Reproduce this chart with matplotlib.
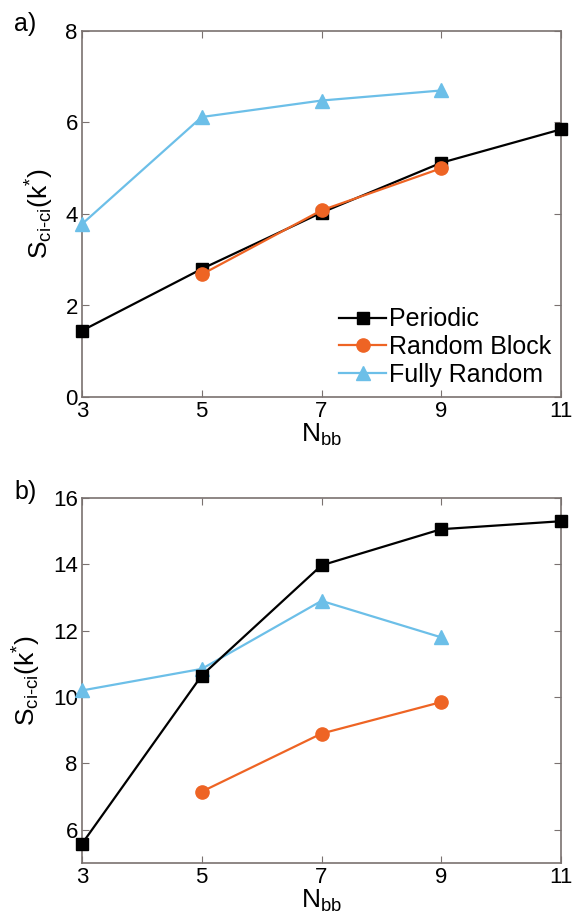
import matplotlib
matplotlib.use("Agg")
import matplotlib.pyplot as plt

plt.rcParams["font.family"] = ["Liberation Sans", "DejaVu Sans"]
plt.rcParams["mathtext.fontset"] = "custom"
plt.rcParams["mathtext.rm"] = "Liberation Sans"
plt.rcParams["mathtext.it"] = "Liberation Sans"

n_bb = [3, 5, 7, 9, 11]

# panel a
a_periodic = [1.45, 2.8, 4.03, 5.12, 5.85]
a_block_x = [5, 7, 9]
a_block = [2.68, 4.08, 5.0]
a_random_x = [3, 5, 7, 9]
a_random = [3.78, 6.12, 6.48, 6.7]

# panel b
b_periodic = [5.58, 10.65, 13.97, 15.06, 15.3]
b_block_x = [5, 7, 9]
b_block = [7.15, 8.9, 9.85]
b_random_x = [3, 5, 7, 9]
b_random = [10.2, 10.85, 12.9, 11.8]

BLACK = "#000000"
ORANGE = "#ee6424"
BLUE = "#6cbfe8"
SPINE = "#7a7270"

fig = plt.figure(figsize=(5.72, 9.21), dpi=100)
ax1 = fig.add_axes([82 / 572, 1 - 397 / 921, 479 / 572, 366 / 921])
ax2 = fig.add_axes([82 / 572, 1 - 863 / 921, 479 / 572, 365 / 921])


def style(ax, ylim, yticks):
    ax.set_xlim(3, 11)
    ax.set_ylim(*ylim)
    ax.set_xticks([3, 5, 7, 9, 11])
    ax.set_yticks(yticks)
    for s in ax.spines.values():
        s.set_color(SPINE)
        s.set_linewidth(1.2)
    ax.tick_params(direction="in", top=True, right=True, length=5,
                   color=SPINE, labelsize=16, pad=3)
    ax.set_xlabel("N$_{\\mathregular{bb}}$", fontsize=19, labelpad=0)
    ax.set_ylabel("S$_{\\mathregular{ci\\text{-}ci}}$(k$^{*}$)", fontsize=19, labelpad=7)


ax1.plot(n_bb, a_periodic, "-s", color=BLACK, ms=8, lw=1.6, label="Periodic", clip_on=False, zorder=4)
ax1.plot(a_block_x, a_block, "-o", color=ORANGE, ms=9.5, lw=1.6, label="Random Block", clip_on=False, zorder=5)
ax1.plot(a_random_x, a_random, "-^", color=BLUE, ms=10, lw=1.6, label="Fully Random", clip_on=False, zorder=3)
style(ax1, (0, 8), [0, 2, 4, 6, 8])
ax1.legend(loc="lower right", fontsize=18, frameon=False,
           borderaxespad=0.2, handlelength=1.9, handletextpad=0.1,
           labelspacing=0.15, borderpad=0.2)

ax2.plot(n_bb, b_periodic, "-s", color=BLACK, ms=8, lw=1.6, clip_on=False, zorder=4)
ax2.plot(b_block_x, b_block, "-o", color=ORANGE, ms=9.5, lw=1.6, clip_on=False, zorder=5)
ax2.plot(b_random_x, b_random, "-^", color=BLUE, ms=10, lw=1.6, clip_on=False, zorder=3)
style(ax2, (5, 16), [6, 8, 10, 12, 14, 16])

fig.text(14 / 572, 1 - 24 / 921, "a)", fontsize=18, va="center")
fig.text(14 / 572, 1 - 492 / 921, "b)", fontsize=18, va="center")

fig.savefig("out.png", dpi=100)
